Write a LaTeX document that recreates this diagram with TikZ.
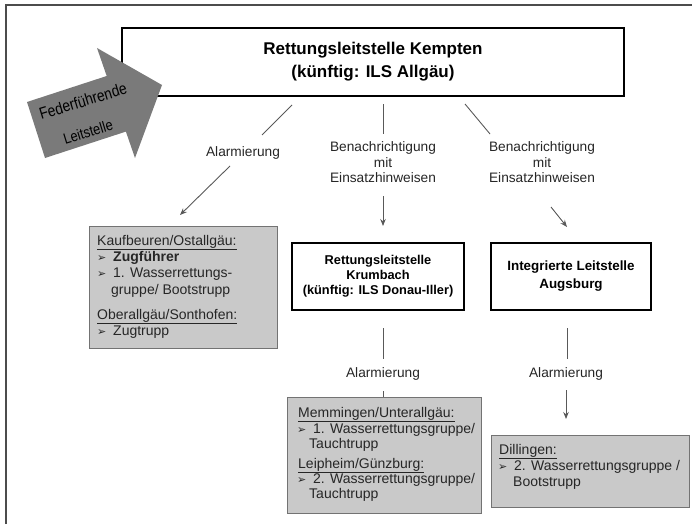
\documentclass[tikz,border=0pt]{standalone}
\usepackage{fontspec}
\setmainfont{Liberation Sans}
\newfontfamily\symfont{DejaVu Sans}
\usetikzlibrary{arrows.meta}
\newcommand{\bulsym}{{\symfont\fontsize{11}{11}\selectfont ➢}}
\tikzset{
  mainbox/.style={draw=black, line width=2.4pt, fill=white, inner sep=0pt},
  leitbox/.style={draw=black, line width=2pt, fill=white, inner sep=0pt},
  graybox/.style={draw=black!55, line width=1pt, fill=black!21, inner sep=0pt},
  lbl/.style={font=\fontsize{13.7}{15.5}\selectfont, align=center, inner sep=0pt, text=black!85},
  boxline/.style={anchor=base west, inner sep=0pt, font=\fontsize{14}{16}\selectfont, text=black!85},
  conn/.style={draw=black!65, line width=0.9pt},
  arr/.style={conn, -{Stealth[length=7pt,width=5.5pt]}},
}
\newcommand{\bitem}[2]{\makebox[#1][l]{\bulsym}#2}
\begin{document}
\begin{tikzpicture}[x=1pt,y=-1pt]
\useasboundingbox (0,0) rectangle (692,524);
% outer frame (top and left)
\draw[draw=black!70, line width=2pt] (6,524) -- (6,5) -- (692,5);

% main box
\node[mainbox, minimum width=502pt, minimum height=68pt,
      font=\bfseries\fontsize{17}{23}\selectfont, align=center] (kempten) at (373,62)
      {Rettungsleitstelle Kempten\\(künftig: ILS Allgäu)};

% Federfuehrende arrow
\fill[black!52] (27,102) -- (106.7,76) -- (97,48) -- (162,85) -- (135,158) -- (125.9,131.6) -- (45,158) -- cycle;
\node[rotate=17, font=\fontsize{15}{17}\selectfont, inner sep=0pt] (fed1) at (83,101) {\scalebox{0.92}[1.08]{Federführende}};
\node[rotate=17, font=\fontsize{14}{17}\selectfont, inner sep=0pt] (fed2) at (88,132) {\scalebox{0.92}[1.08]{Leitstelle}};

% labels
\node[lbl] (alarmL) at (243,153) {Alarmierung};
\node[lbl] (benM) at (383,162.5) {Benachrichtigung\\mit\\Einsatzhinweisen};
\node[lbl] (benR) at (542,162.5) {Benachrichtigung\\mit\\Einsatzhinweisen};
\node[lbl] (alarmM) at (383,374) {Alarmierung};
\node[lbl] (alarmR) at (566,374) {Alarmierung};

% second-level boxes
\node[leitbox, minimum width=172pt, minimum height=67pt,
      font=\bfseries\fontsize{12.8}{15}\selectfont, align=center] (krumbach) at (378,276.5)
      {Rettungsleitstelle\\Krumbach\\(künftig: ILS Donau-Iller)};
\node[leitbox, minimum width=160pt, minimum height=67pt,
      font=\bfseries\fontsize{13.4}{18}\selectfont, align=center] (augsburg) at (571,276.5)
      {Integrierte Leitstelle\\Augsburg};

% gray boxes
\node[graybox, minimum width=188pt, minimum height=122pt, anchor=north west] (kauf) at (89,226) {};
\node[graybox, minimum width=194pt, minimum height=116pt, anchor=north west] (memm) at (287,397) {};
\node[graybox, minimum width=198pt, minimum height=72pt, anchor=north west] (dill) at (491,435) {};

% Kaufbeuren text
\node[boxline] (kb1) at (97,245) {\underline{Kaufbeuren/Ostallgäu:}};
\node[boxline] (kb2) at (97,261) {\bitem{16pt}{\bfseries Zugführer}};
\node[boxline] (kb3) at (97,277) {\bitem{16pt}{1. Wasserrettungs-}};
\node[boxline] (kb4) at (111,294) {gruppe/ Bootstrupp};
\node[boxline] (kb5) at (97,319) {\underline{Oberallgäu/Sonthofen:}};
\node[boxline] (kb6) at (97,335) {\bitem{16pt}{Zugtrupp}};

% Memmingen text
\node[boxline] (mm1) at (298,417) {\underline{Memmingen/Unterallgäu:}};
\node[boxline] (mm2) at (297,433) {\bitem{16pt}{1. Wasserrettungsgruppe/}};
\node[boxline] (mm3) at (309,448) {Tauchtrupp};
\node[boxline] (mm4) at (298,468) {\underline{Leipheim/Günzburg:}};
\node[boxline] (mm5) at (297,483) {\bitem{16pt}{2. Wasserrettungsgruppe/}};
\node[boxline] (mm6) at (309,498) {Tauchtrupp};

% Dillingen text
\node[boxline] (dl1) at (499,454) {\underline{Dillingen:}};
\node[boxline] (dl2) at (498,470) {\bitem{16pt}{2. Wasserrettungsgruppe /}};
\node[boxline] (dl3) at (513,486) {Bootstrupp};

% connector end points
\coordinate (c1a) at (292,105); \coordinate (c1b) at (262,135);
\coordinate (c2a) at (230,166); \coordinate (c2b) at (180,215);
\coordinate (c3a) at (383,104); \coordinate (c3b) at (383,134);
\coordinate (c4a) at (383,196); \coordinate (c4b) at (383,226);
\coordinate (c5a) at (465,104); \coordinate (c5b) at (490,134);
\coordinate (c6a) at (551,207); \coordinate (c6b) at (567,227);
\coordinate (c7a) at (383,328); \coordinate (c7b) at (383,359);
\coordinate (c8a) at (383,391);
\coordinate (c9a) at (567,328); \coordinate (c9b) at (567,359);
\coordinate (c10a) at (566,390); \coordinate (c10b) at (566,419);

\draw[conn] (c1a) -- (c1b);
\draw[arr] (c2a) -- (c2b);
\draw[conn] (c3a) -- (c3b);
\draw[arr] (c4a) -- (c4b);
\draw[conn] (c5a) -- (c5b);
\draw[arr] (c6a) -- (c6b);
\draw[conn] (c7a) -- (c7b);
\draw[conn] (c8a) -- (memm.north -| c8a);
\draw[conn] (c9a) -- (c9b);
\draw[arr] (c10a) -- (c10b);
\end{tikzpicture}
\end{document}
